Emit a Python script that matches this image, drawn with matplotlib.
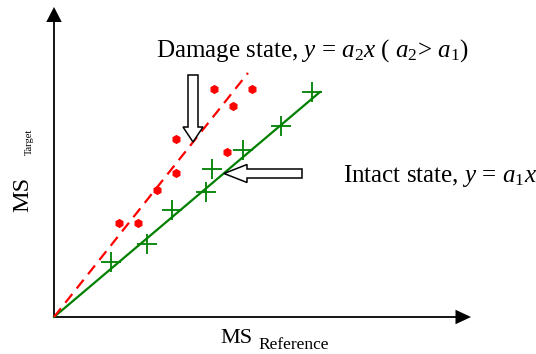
import matplotlib
matplotlib.use("Agg")
import matplotlib.pyplot as plt
from matplotlib.patches import FancyArrow

plt.rcParams['font.family'] = ['Liberation Serif', 'DejaVu Serif']
plt.rcParams['mathtext.fontset'] = 'custom'
plt.rcParams['mathtext.rm'] = 'Liberation Serif'
plt.rcParams['mathtext.it'] = 'Liberation Serif:italic'

# Data (arbitrary units)
intact_x = [5.67, 9.33, 11.8, 15.2, 15.8, 18.9, 22.7, 25.8]
intact_y = [5.53, 7.3, 10.7, 12.5, 14.8, 16.7, 19.1, 22.5]
damage_x = [6.5, 8.4, 10.3, 12.2, 12.2, 17.3, 16.0, 17.9, 19.8]
damage_y = [9.4, 9.4, 12.7, 14.4, 17.8, 16.5, 22.8, 21.1, 22.8]
a1 = 0.846
a2 = 1.258
intact_xmax = 26.6
damage_xmax = 19.4

fig = plt.figure(figsize=(5.36, 3.54), dpi=100)
ax = fig.add_axes([0, 0, 1, 1])
ax.set_xlim(-5.4, 48.2)
ax.set_ylim(-3.7, 31.7)
ax.axis('off')

# axes with arrows
ax.add_patch(FancyArrow(0, 0, 41.7, 0, width=0.18, head_width=1.45, head_length=1.55,
                        length_includes_head=True, color='black', lw=0))
ax.add_patch(FancyArrow(0, 0, 0, 31.0, width=0.18, head_width=1.55, head_length=1.5,
                        length_includes_head=True, color='black', lw=0))

# fitted lines
ax.plot([0, intact_xmax], [0, a1 * intact_xmax], color='green', lw=1.6, zorder=3)
ax.plot([0, damage_xmax], [0, a2 * damage_xmax], color='red', lw=1.6,
        dashes=(5, 3.2), zorder=3)

# points
ax.plot(intact_x, intact_y, linestyle='none', marker='+', markersize=15,
        mew=1.3, color='green', zorder=4)
ax.plot(damage_x, damage_y, linestyle='none', marker='h', markersize=5.5,
        color='red', mec='red', zorder=4)

# hollow block arrows
ax.add_patch(FancyArrow(13.9, 24.2, 0, -6.7, width=1.0, head_width=2.0, head_length=1.5,
                        length_includes_head=True, fc='white', ec='black', lw=1.1, zorder=5))
ax.add_patch(FancyArrow(24.8, 14.35, -7.8, 0, width=0.9, head_width=1.8, head_length=2.3,
                        length_includes_head=True, fc='white', ec='black', lw=1.1, zorder=5))

# annotations
ax.text(10.2, 26.0, r"Damage state, $y$ = $a_2x$ ( $a_2$> $a_1$)", fontsize=18,
        ha='left', va='baseline')
ax.text(28.9, 13.5, r"Intact state, $y$ = $a_1x$", fontsize=18,
        ha='left', va='baseline')

# axis labels
ax.text(16.67, -2.6, "MS", fontsize=16, ha='left', va='baseline')
ax.text(20.4, -3.2, "Reference", fontsize=12.5, ha='left', va='baseline')
ax.text(-2.55, 10.5, "MS", fontsize=17.5, ha='left', va='baseline', rotation=90,
        rotation_mode='anchor')
ax.text(-2.2, 16.2, "Target", fontsize=7.5, ha='left', va='baseline', rotation=90,
        rotation_mode='anchor')

fig.savefig('out.png', dpi=100)
